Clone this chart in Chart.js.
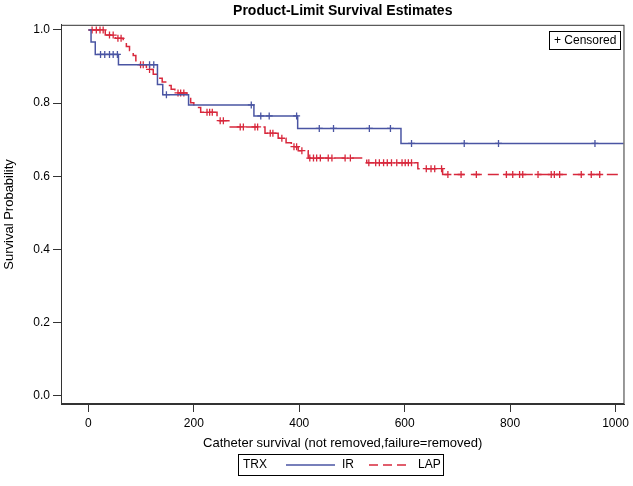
<!DOCTYPE html>
<html>
<head>
<meta charset="utf-8">
<script src="https://cdn.jsdelivr.net/npm/chart.js@4"></script>
<style>
    html, body { margin: 0; padding: 0; background: #fff; }
    #wrap { width: 633px; height: 486px; }
</style>
</head>
<body>
<div id="wrap"><canvas id="grafico" width="633" height="486"></canvas></div>
<script>
// ticks
const xTicks = [0, 200, 400, 600, 800, 1000];
const yTicks = [0, 0.2, 0.4, 0.6, 0.8, 1.0];

// IR group: event times and survival after each step
const irTimes = [0, 5, 13, 57, 131, 141, 190, 314, 397, 593, 1015];
const irSurv = [1.0, 0.967, 0.933, 0.905, 0.851, 0.823, 0.795, 0.765, 0.731, 0.690, 0.690];
const irCensored = [23, 31, 40, 47, 55, 116, 124, 148, 309, 327, 343, 395, 438, 465, 533, 573, 613, 713, 778, 961];

// LAP group
const lapTimes = [0, 32, 51, 66, 72, 78, 85, 90, 97, 110, 123, 132, 140, 150, 157, 164, 187, 194, 200, 213,
    244, 269, 335, 360, 375, 385, 398, 417, 528, 625, 672, 1015];
const lapSurv = [1.0, 0.986, 0.977, 0.965, 0.955, 0.944, 0.930, 0.916, 0.905, 0.892, 0.879, 0.868, 0.858, 0.848,
    0.838, 0.828, 0.815, 0.801, 0.788, 0.775, 0.752, 0.735, 0.718, 0.704, 0.692, 0.681, 0.670, 0.650, 0.637,
    0.621, 0.605, 0.605];
const lapCensored = [7, 15, 22, 28, 40, 47, 56, 62, 99, 104, 116, 170, 175, 181, 225, 230, 235, 250, 256, 288,
    294, 316, 321, 345, 350, 367, 390, 395, 405, 420, 427, 433, 440, 455, 462, 487, 497, 532, 545, 552, 560,
    567, 575, 585, 595, 601, 607, 613, 641, 650, 657, 670, 682, 707, 736, 793, 805, 818, 824, 853, 878, 884,
    894, 935, 954, 970];

const groupLabels = ['IR', 'LAP'];
const blue = '#4a55a3';
const red = '#d8283c';
const axisColor = '#333';
const fontFamily = '"Liberation Sans", Arial, sans-serif';

function survAt(times, surv, t) {
    let s = surv[0];
    for (let i = 0; i < times.length; i++) {
        if (times[i] <= t) s = surv[i];
    }
    return s;
}

function steps(times, surv) {
    return times.map((t, i) => ({ x: t, y: surv[i] }));
}

function marks(times, surv, cens) {
    return cens.map(t => ({ x: t, y: survAt(times, surv, t) }));
}

// frame + custom legends
const extras = {
    id: 'extras',
    afterDraw(chart) {
        const { ctx, chartArea } = chart;
        ctx.save();
        ctx.strokeStyle = axisColor;
        ctx.lineWidth = 1;
        ctx.strokeRect(chartArea.left + 0.5, chartArea.top + 0.5,
            chartArea.right - chartArea.left - 1, chartArea.bottom - chartArea.top - 1);

        ctx.font = '12px ' + fontFamily;
        ctx.fillStyle = '#000';
        ctx.textBaseline = 'middle';

        // censored box (top right)
        ctx.strokeStyle = '#000';
        ctx.strokeRect(549.5, 31.5, 71, 18);
        ctx.fillText('+ Censored', 554, 41);

        // group legend (bottom)
        const ly = 465;
        ctx.strokeRect(238.5, 454.5, 205, 21);
        ctx.fillText('TRX', 243, ly);

        ctx.lineWidth = 1.5;
        ctx.strokeStyle = blue;
        ctx.beginPath();
        ctx.moveTo(286, ly);
        ctx.lineTo(335, ly);
        ctx.stroke();
        ctx.fillText(groupLabels[0], 342, ly);

        ctx.strokeStyle = red;
        ctx.setLineDash([9, 5]);
        ctx.beginPath();
        ctx.moveTo(369, ly);
        ctx.lineTo(409, ly);
        ctx.stroke();
        ctx.setLineDash([]);
        ctx.fillText(groupLabels[1], 418, ly);
        ctx.restore();
    }
};

const ctx = document.getElementById('grafico').getContext('2d');

new Chart(ctx, {
    type: 'line',
    data: {
        datasets: [
            {
                label: groupLabels[0],
                data: steps(irTimes, irSurv),
                borderColor: blue,
                borderWidth: 1.5,
                stepped: true,
                pointRadius: 0
            },
            {
                label: groupLabels[1],
                data: steps(lapTimes, lapSurv),
                borderColor: red,
                borderWidth: 1.5,
                borderDash: [11, 6],
                stepped: true,
                pointRadius: 0
            },
            {
                type: 'scatter',
                label: groupLabels[0] + ' censored',
                data: marks(irTimes, irSurv, irCensored),
                pointStyle: 'cross',
                pointRadius: 3.5,
                borderColor: blue,
                backgroundColor: blue,
                pointBorderWidth: 1.3
            },
            {
                type: 'scatter',
                label: groupLabels[1] + ' censored',
                data: marks(lapTimes, lapSurv, lapCensored),
                pointStyle: 'cross',
                pointRadius: 3.5,
                borderColor: red,
                backgroundColor: red,
                pointBorderWidth: 1.3
            }
        ]
    },
    options: {
        responsive: false,
        animation: false,
        layout: { padding: { left: 0, right: 8, top: 0, bottom: 34 } },
        plugins: {
            legend: { display: false },
            tooltip: { enabled: false },
            title: {
                display: true,
                text: 'Product-Limit Survival Estimates',
                fullSize: false,
                color: '#000',
                font: { family: fontFamily, size: 14, weight: 'bold' },
                padding: { top: 3, bottom: 5 }
            }
        },
        scales: {
            x: {
                type: 'linear',
                min: -52,
                max: 1017,
                afterBuildTicks: axis => { axis.ticks = xTicks.map(v => ({ value: v })); },
                afterFit: axis => { axis.height = 48; },
                ticks: {
                    color: '#000',
                    font: { family: fontFamily, size: 12 },
                    padding: 4,
                    maxRotation: 0,
                    callback: v => String(v)
                },
                grid: { drawOnChartArea: false, tickLength: 8, color: axisColor },
                border: { color: axisColor },
                title: {
                    display: true,
                    text: 'Catheter survival (not removed,failure=removed)',
                    color: '#000',
                    font: { family: fontFamily, size: 13 },
                    padding: { top: 0, bottom: 1 }
                }
            },
            y: {
                min: -0.022,
                max: 1.014,
                afterBuildTicks: axis => { axis.ticks = yTicks.map(v => ({ value: v })); },
                afterFit: axis => { axis.width = 61; },
                ticks: {
                    color: '#000',
                    font: { family: fontFamily, size: 12 },
                    padding: 3,
                    callback: v => v.toFixed(1)
                },
                grid: { drawOnChartArea: false, tickLength: 8, color: axisColor },
                border: { color: axisColor },
                title: {
                    display: true,
                    text: 'Survival Probability',
                    color: '#000',
                    font: { family: fontFamily, size: 13 },
                    padding: { top: 2, bottom: 0 }
                }
            }
        }
    },
    plugins: [extras]
});
</script>
</body>
</html>
